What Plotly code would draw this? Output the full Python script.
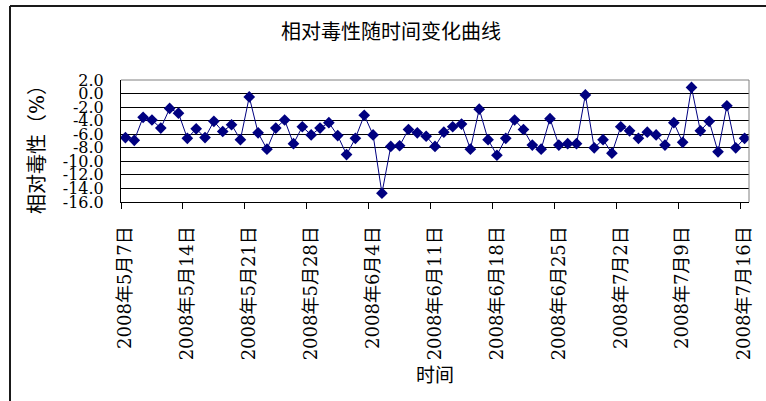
import pandas as pd
import plotly.graph_objects as go

# Daily sampling dates, 7 May - 16 July 2008
dates = pd.date_range("2008-05-07", "2008-07-16", freq="D")

# Relative toxicity (%) per day
toxicity = [
    -6.5, -6.9, -3.5, -3.9, -5.1, -2.2, -2.9, -6.6, -5.2, -6.5,
    -4.1, -5.6, -4.6, -6.8, -0.5, -5.8, -8.2, -5.1, -3.9, -7.4,
    -4.9, -6.1, -5.1, -4.3, -6.2, -9.0, -6.6, -3.2, -6.1, -14.7,
    -7.8, -7.7, -5.3, -5.8, -6.3, -7.8, -5.7, -4.9, -4.5, -8.2,
    -2.3, -6.8, -9.1, -6.6, -3.9, -5.3, -7.6, -8.2, -3.7, -7.6,
    -7.4, -7.4, -0.2, -8.0, -6.8, -8.8, -4.9, -5.5, -6.6, -5.7,
    -6.1, -7.6, -4.3, -7.2, 0.9, -5.5, -4.1, -8.6, -1.8, -8.0,
    -6.6,
]

# Weekly category labels and y-axis ticks
label_dates = dates[::7]
x_labels = [f"{d.year}年{d.month}月{d.day}日" for d in label_dates]
y_ticks = list(range(-16, 3, 2))
y_labels = [f"{v:.1f}" for v in y_ticks]

# Tick marks sit on the boundaries between weekly category groups
half_day = pd.Timedelta(hours=12)
boundary_ticks = [d - half_day for d in label_dates] + [dates[-1] - half_day]
x_range = [dates[0] - half_day, dates[-1] + half_day]

FONT = "'DejaVu Serif', 'Noto Sans CJK SC', serif"
NAVY = "#000080"

fig = go.Figure()
fig.add_trace(go.Scatter(
    x=dates, y=toxicity, mode="lines+markers",
    line=dict(color=NAVY, width=1),
    marker=dict(symbol="diamond", size=9, color=NAVY),
    showlegend=False,
))
# invisible trace that carries the boundary tick axis
fig.add_trace(go.Scatter(x=[dates[0]], y=[None], xaxis="x2", showlegend=False,
                         hoverinfo="skip"))

W, H = 766, 401
L, R, T, B = 121, 17, 80, 199
pw, ph = W - L - R, H - T - B


def px_x(p):
    return (p - L) / pw


def px_y(p):
    return (H - B - p) / ph


fig.update_layout(
    width=W, height=H,
    margin=dict(l=L, r=R, t=T, b=B, autoexpand=False),
    paper_bgcolor="white", plot_bgcolor="white",
    font=dict(family=FONT, size=19, color="black"),
    title=dict(text="相对毒性随时间变化曲线", x=391 / W, xanchor="center",
               y=1 - 32 / H, yanchor="middle",
               font=dict(family=FONT, size=20, color="black")),
    xaxis=dict(
        type="date", range=x_range,
        tickmode="array", tickvals=list(label_dates), ticktext=x_labels,
        tickangle=-90, ticks="", ticklabelstandoff=16,
        showgrid=False, zeroline=False,
        showline=True, linecolor="black", linewidth=1,
        tickfont=dict(family=FONT, size=18, color="black"),
    ),
    xaxis2=dict(
        type="date", range=x_range, overlaying="x", anchor="y", side="bottom",
        tickmode="array", tickvals=boundary_ticks,
        ticks="outside", ticklen=6, tickcolor="black", tickwidth=1,
        showticklabels=False, showgrid=False, zeroline=False, showline=False,
    ),
    yaxis=dict(
        range=[-16, 2], tickmode="array", tickvals=y_ticks, ticktext=y_labels,
        ticks="", ticklabelstandoff=13,
        showgrid=True, gridcolor="black", gridwidth=1, zeroline=False,
        showline=True, linecolor="black", linewidth=1,
        tickfont=dict(family=FONT, size=16, color="black"),
    ),
    annotations=[
        dict(text="相对毒性（%）", xref="paper", yref="paper",
             x=px_x(37), y=px_y(145), xanchor="center", yanchor="middle",
             textangle=-90, showarrow=False,
             font=dict(family=FONT, size=20, color="black")),
        dict(text="时间", xref="paper", yref="paper",
             x=px_x(435), y=px_y(375), xanchor="center", yanchor="middle",
             showarrow=False,
             font=dict(family=FONT, size=19, color="black")),
    ],
    shapes=[
        # plot area border (top and right)
        dict(type="line", xref="paper", yref="paper", x0=0, x1=1, y0=1, y1=1,
             line=dict(color="#808080", width=1)),
        dict(type="line", xref="paper", yref="paper", x0=1, x1=1, y0=0, y1=1,
             line=dict(color="#808080", width=1)),
        # chart frame
        dict(type="line", xref="paper", yref="paper",
             x0=px_x(10), x1=px_x(10), y0=px_y(6), y1=px_y(420),
             line=dict(color="#1a1a1a", width=2)),
        dict(type="line", xref="paper", yref="paper",
             x0=px_x(10), x1=px_x(780), y0=px_y(6), y1=px_y(6),
             line=dict(color="#1a1a1a", width=2)),
    ],
)

fig.write_html("out.html")
